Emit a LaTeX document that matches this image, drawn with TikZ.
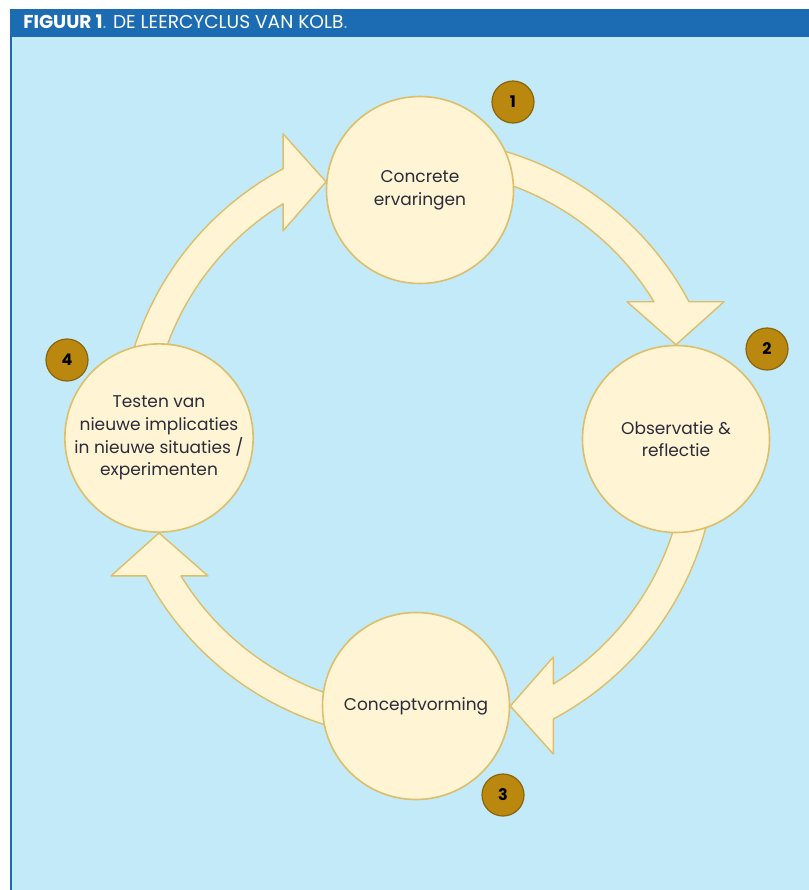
\documentclass[tikz,border=0pt]{standalone}
\usepackage{fontspec}
\setmainfont{Poppins}
\usetikzlibrary{calc}
\pgfdeclarelayer{back}
\pgfdeclarelayer{flows}
\pgfsetlayers{back,flows,main}
\definecolor{sky}{HTML}{C2EAF8}
\definecolor{bar}{HTML}{1B6CB2}
\definecolor{cyandot}{HTML}{6CCBEF}
\definecolor{cream}{HTML}{FFF4D4}
\definecolor{rim}{HTML}{DDBE6A}
\definecolor{gold}{HTML}{BA870F}
\definecolor{ink}{HTML}{2B2B3A}
\tikzset{
  stage/.style={circle, draw=rim, fill=cream, line width=0.8pt, minimum size=93.5pt,
    inner sep=0pt, align=center, text=ink, font=\fontsize{8.5}{11.3}\selectfont},
  flow/.style={draw=rim, fill=cream, line width=0.7pt, line join=round},
  badge/.style={circle, draw=gold!75!black, fill=gold, line width=0.6pt, minimum size=21pt,
    inner sep=0pt, text=black, font=\bfseries\fontsize{8}{8}\selectfont},
  heading/.style={anchor=base west, inner sep=0pt, text=white, font=\fontsize{9.3}{10}\selectfont},
}

\begin{document}
\begin{tikzpicture}[x=0.5pt,y=0.5pt]
  \useasboundingbox (0,0) rectangle (809,-890);
  \begin{pgfonlayer}{back}
    \fill[sky] (10,-36) rectangle (809,-890);
    \fill[bar] (10,-9) rectangle (809,-37);
    \draw[bar, line width=1pt] (11,-36) -- (11,-890);
  \end{pgfonlayer}
  \node[heading] (title) at (23,-28)
    {\textbf{FIGUUR 1}\textcolor{cyandot}{.} DE LEERCYCLUS VAN KOLB\textcolor{cyandot}{.}};

  \node[stage] (c1) at (420,-190) {Concrete\\ervaringen};
  \node[stage] (c2) at (676,-439) {Observatie \&\\reflectie};
  \node[stage] (c3) at (416,-706) {Conceptvorming};
  \node[stage] (c4) at (159,-438) {Testen van\\nieuwe implicaties\\in nieuwe situaties /\\experimenten};

  \node[badge] (n1) at (513,-102) {1};
  \node[badge] (n2) at (767,-349) {2};
  \node[badge] (n3) at (503,-795) {3};
  \node[badge] (n4) at (67,-360) {4};

  \begin{pgfonlayer}{flows}
    \foreach \tgt/\side/\turn in {c2/90/0, c3/0/-90, c4/270/180, c1/175/90}
      \draw[flow, shift={(\tgt.\side)}, rotate=\turn] (0,0) -- (48,43) -- (13,43)
        arc[start angle=28.06, end angle=85, radius=308.2] -- ++(85:-30.4)
        arc[start angle=85, end angle=31.46, radius=277.8] -- (-49,43) -- cycle;
  \end{pgfonlayer}
\end{tikzpicture}
\end{document}
